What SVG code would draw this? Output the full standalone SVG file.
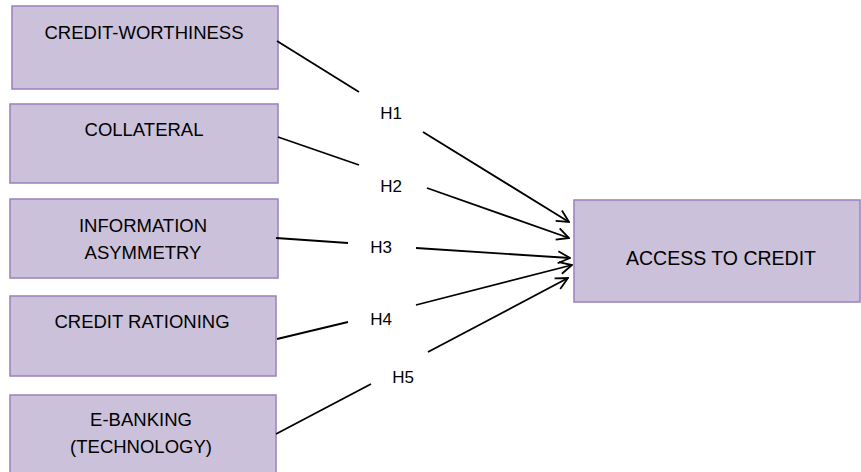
<svg xmlns="http://www.w3.org/2000/svg" width="861" height="472" viewBox="0 0 861 472">
<style>
.box{fill:#ccc1da;stroke:#9a80bd;stroke-width:1.5}
.t{font-family:"Liberation Sans",Arial,sans-serif;font-size:18.5px;fill:#000;text-anchor:middle}
.h{font-family:"Liberation Sans",Arial,sans-serif;font-size:17px;fill:#000;text-anchor:middle}
.ln{stroke:#000;stroke-width:1.8;fill:none}
</style>
<defs>
<marker id="arr" viewBox="0 0 14 14" refX="13" refY="7" markerWidth="14" markerHeight="14" markerUnits="userSpaceOnUse" orient="auto">
<path d="M1,1 L13,7 L1,13" fill="none" stroke="#000" stroke-width="1.8"/>
</marker>
</defs>
<rect width="861" height="472" fill="#fff"/>
<g id="n1"><rect class="box" x="12" y="6" width="266" height="83"/><text class="t" x="144" y="39">CREDIT-WORTHINESS</text></g>
<g id="n2"><rect class="box" x="10" y="104" width="268" height="79"/><text class="t" x="144" y="136">COLLATERAL</text></g>
<g id="n3"><rect class="box" x="10" y="199" width="268" height="79"/><text class="t" x="143" y="232">INFORMATION</text><text class="t" x="143" y="259">ASYMMETRY</text></g>
<g id="n4"><rect class="box" x="10" y="296" width="266" height="80"/><text class="t" x="142" y="328">CREDIT RATIONING</text></g>
<g id="n5"><rect class="box" x="10" y="395" width="266" height="80"/><text class="t" x="141" y="426">E-BANKING</text><text class="t" x="141" y="453">(TECHNOLOGY)</text></g>
<g id="target"><rect class="box" x="574" y="200" width="286" height="102"/><text class="t" x="721" y="265" style="font-size:19.5px">ACCESS TO CREDIT</text></g>
<g id="connectors">
<line class="ln" x1="277" y1="41" x2="359" y2="92"/>
<line class="ln" x1="423" y1="132" x2="569" y2="222" marker-end="url(#arr)"/>
<line class="ln" x1="278" y1="137" x2="359" y2="165"/>
<line class="ln" x1="427" y1="188" x2="569" y2="238" marker-end="url(#arr)"/>
<line class="ln" x1="276" y1="238" x2="348" y2="243"/>
<line class="ln" x1="416" y1="248" x2="570" y2="258" marker-end="url(#arr)"/>
<line class="ln" x1="277" y1="339" x2="348" y2="322"/>
<line class="ln" x1="416" y1="305" x2="572" y2="265" marker-end="url(#arr)"/>
<line class="ln" x1="276" y1="434" x2="371" y2="384"/>
<line class="ln" x1="428" y1="352" x2="568" y2="278" marker-end="url(#arr)"/>
</g>
<g id="labels">
<text class="h" x="391" y="119">H1</text>
<text class="h" x="391" y="192">H2</text>
<text class="h" x="381" y="253">H3</text>
<text class="h" x="381" y="325">H4</text>
<text class="h" x="403" y="383">H5</text>
</g>
</svg>
